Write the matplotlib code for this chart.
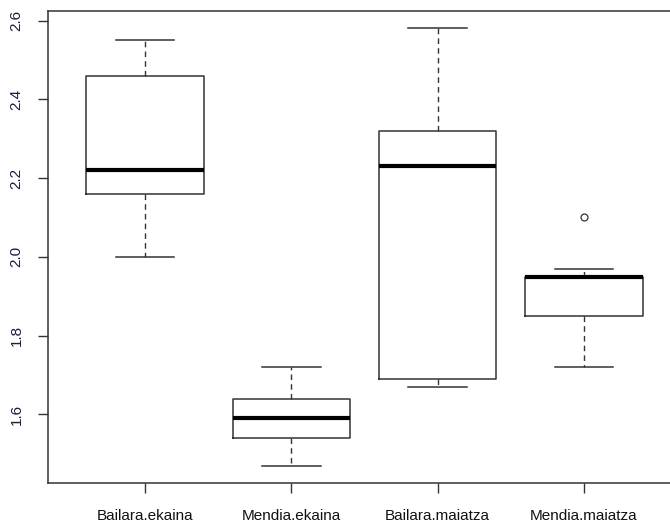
import matplotlib
matplotlib.use("Agg")
import matplotlib.pyplot as plt

plt.rcParams['font.family'] = ['Liberation Sans', 'DejaVu Sans']

groups = ["Bailara.ekaina", "Mendia.ekaina", "Bailara.maiatza", "Mendia.maiatza"]
whis_lo = [2.00, 1.47, 1.67, 1.72]
q1 = [2.16, 1.54, 1.69, 1.85]
med = [2.22, 1.59, 2.23, 1.95]
q3 = [2.46, 1.64, 2.32, 1.95]
whis_hi = [2.55, 1.72, 2.58, 1.97]
outliers = [[], [], [], [2.10]]
yticks = [1.6, 1.8, 2.0, 2.2, 2.4, 2.6]

stats = []
for i, g in enumerate(groups):
    stats.append(dict(label=g, whislo=whis_lo[i], q1=q1[i], med=med[i],
                      q3=q3[i], whishi=whis_hi[i], fliers=outliers[i]))

fig = plt.figure(figsize=(6.7, 5.24), dpi=100)
# plot region runs past the right edge of the image
ax = fig.add_axes([48.4 / 670, 41 / 524, 632.2 / 670, 472 / 524])

ink = "#333333"
ax.bxp(stats, positions=[1, 2, 3, 4], widths=0.8, capwidths=0.4,
       boxprops=dict(color=ink, linewidth=1.1),
       whiskerprops=dict(color=ink, linewidth=1.0, linestyle=(0, (4, 3))),
       capprops=dict(color=ink, linewidth=1.1),
       medianprops=dict(color="black", linewidth=3),
       flierprops=dict(marker="o", markersize=5, markerfacecolor="none",
                       markeredgecolor=ink, markeredgewidth=0.9))

ax.set_xlim(0.34, 4.66)
ax.set_ylim(1.4256, 2.6244)
ax.set_yticks(yticks)
ax.set_yticklabels([f"{v:.1f}" for v in yticks], rotation=90, va="center",
                   color="#1c1c3c", fontsize=11)
ax.set_xticks([1, 2, 3, 4])
ax.set_xticklabels(groups, fontsize=11, color="#111111")
ax.tick_params(axis="both", length=7, width=1, color=ink)
ax.tick_params(axis="x", pad=12)
ax.tick_params(axis="y", pad=11)
for s in ax.spines.values():
    s.set_color(ink)
    s.set_linewidth(1.1)

fig.savefig("out.png", dpi=100)
